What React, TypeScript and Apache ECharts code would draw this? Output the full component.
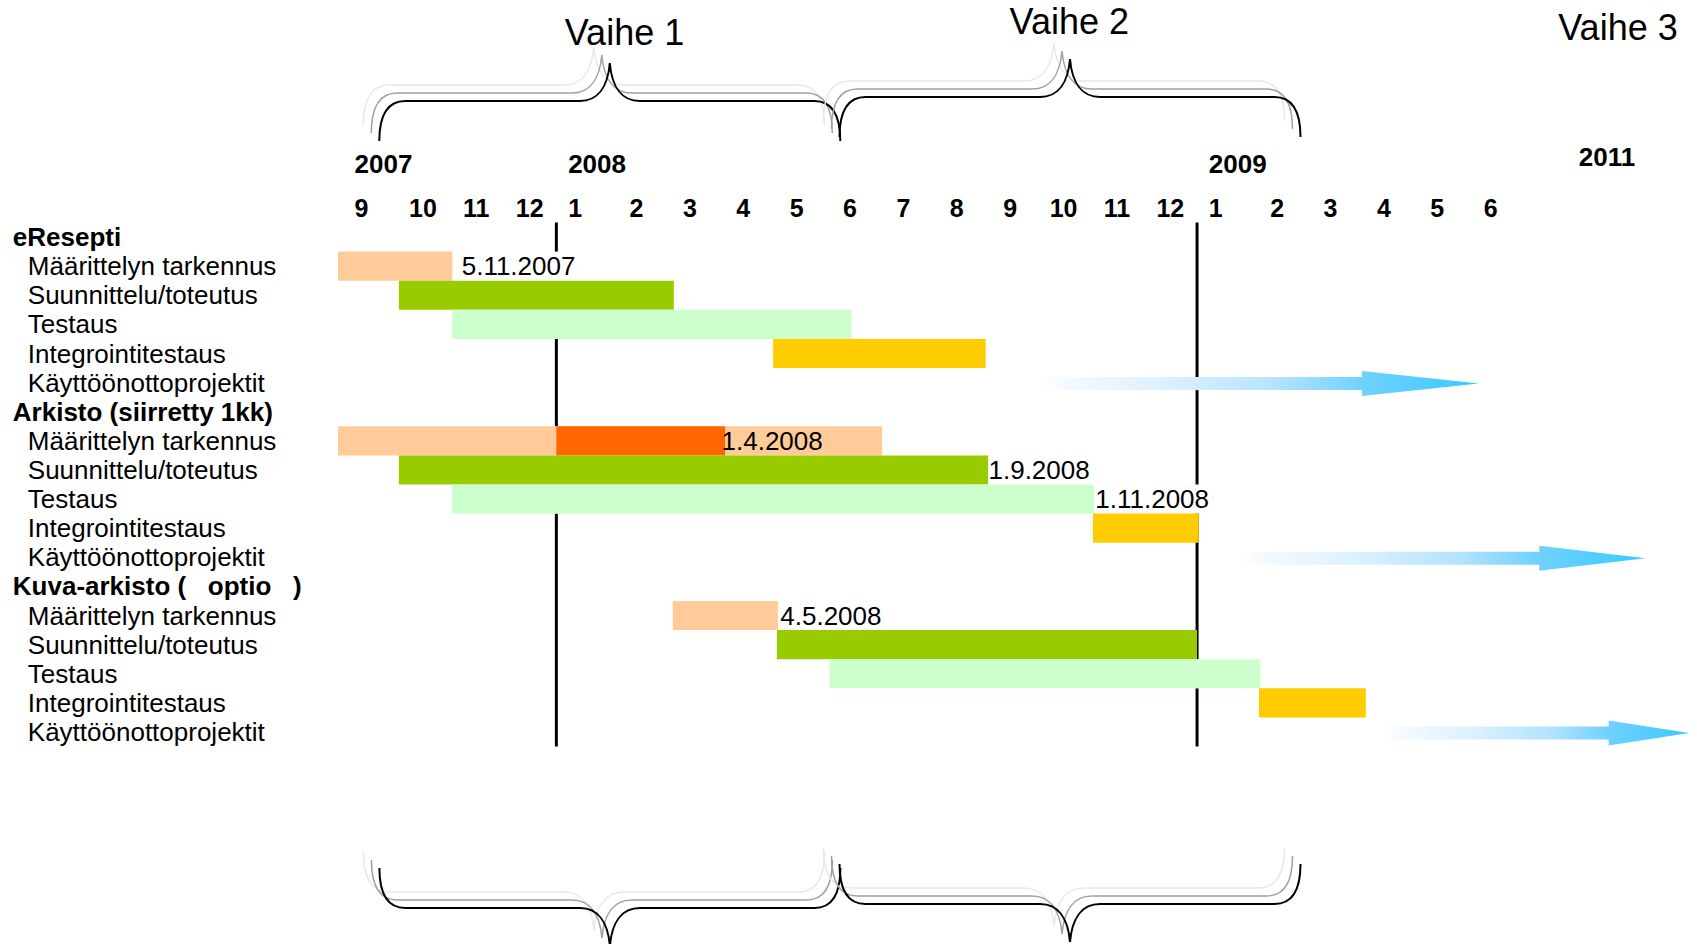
import React, { useEffect, useRef } from 'react';
import * as echarts from 'echarts';

const FONT = '"Liberation Sans", Arial, sans-serif';

// ---- Data ----
const rowLabels = [
  'eResepti', 'Määrittelyn tarkennus', 'Suunnittelu/toteutus', 'Testaus', 'Integrointitestaus', 'Käyttöönottoprojektit',
  'Arkisto (siirretty 1kk)', 'Määrittelyn tarkennus', 'Suunnittelu/toteutus', 'Testaus', 'Integrointitestaus', 'Käyttöönottoprojektit',
  'Kuva-arkisto (   optio   )', 'Määrittelyn tarkennus', 'Suunnittelu/toteutus', 'Testaus', 'Integrointitestaus', 'Käyttöönottoprojektit',
];
const headerRows = [0, 6, 12];

const monthLabels = ['9', '10', '11', '12', '1', '2', '3', '4', '5', '6', '7', '8', '9', '10', '11', '12', '1', '2', '3', '4', '5', '6'];
const yearLabels = ['2007', '2008', '2009'];
const yearMonthIndex = [0, 4, 16];
const extraYearLabel = '2011';
const phaseTitles = ['Vaihe 1', 'Vaihe 2', 'Vaihe 3'];

// values in months since 1.9.2007
const barRows = [1, 2, 3, 4, 7, 7, 8, 9, 10, 13, 14, 15, 16];
const barStarts = [-0.09, 1.05, 2.05, 8.06, -0.09, 4.0, 1.05, 2.05, 14.05, 6.18, 8.13, 9.12, 17.16];
const barEnds = [2.05, 6.2, 9.53, 12.04, 10.1, 7.16, 12.09, 14.07, 16.03, 8.15, 16.0, 17.19, 19.16];
const barKinds = ['def', 'dev', 'test', 'int', 'def', 'delay', 'dev', 'test', 'int', 'def', 'dev', 'test', 'int'];

const dateLabels = ['5.11.2007', '1.4.2008', '1.9.2008', '1.11.2008', '4.5.2008'];
const dateLabelRows = [1, 7, 8, 9, 13];

const milestoneMonths = [4, 16];

const arrowRows = [5, 11, 17];
const arrowFrom = [12.85, 16.6, 19.35];
const arrowHead = [19.09, 22.41, 23.71];
const arrowTo = [21.28, 24.4, 25.22];

const kindColors: Record<string, string> = {
  def: '#FFCC99',
  dev: '#99CC00',
  test: '#CCFFCC',
  int: '#FFCC00',
  delay: '#FF6600',
};

function dateToMonths(s: string) {
  const [d, m, y] = s.split('.').map(Number);
  return (y - 2007) * 12 + (m - 9) + (d - 1) / 30;
}

function bracePath(w: number) {
  const h = w / 2;
  return `M0 40 C0 14 8 0 26 0 L${h - 30} 0 C${h - 12} 0 ${h - 2} -14 ${h} -38 C${h + 2} -14 ${h + 12} 0 ${h + 30} 0 L${w - 26} 0 C${w - 8} 0 ${w} 14 ${w} 40`;
}
echarts.graphic.registerShape('brace', echarts.graphic.extendPath(bracePath(461), {}));

function measureWidth(text: string, fontSize: number) {
  const c = document.createElement('canvas');
  const ctx = c.getContext('2d');
  if (!ctx) return text.length * fontSize * 0.5;
  ctx.font = `${fontSize}px ${FONT}`;
  return ctx.measureText(text).width;
}

export default function App() {
  const ref = useRef<HTMLDivElement>(null);

  useEffect(() => {
    if (!ref.current) return;
    const chart = echarts.init(ref.current, null, { renderer: 'svg' });

    const dateValues = dateLabels.map(dateToMonths);
    const dateWidths = dateLabels.map((t) => measureWidth(t, 26));
    const dateBg = dateLabels.map((_, i) => {
      const probe = dateValues[i] + 0.5;
      const row = dateLabelRows[i];
      return !barRows.some((r, j) => r === row && barStarts[j] <= probe && barEnds[j] >= probe);
    });

    const arrowGradient = new echarts.graphic.LinearGradient(0, 0, 1, 0, [
      { offset: 0, color: 'rgba(255,255,255,0)' },
      { offset: 0.08, color: '#F4FAFF' },
      { offset: 0.3, color: '#DDF1FF' },
      { offset: 0.55, color: '#B5E3FF' },
      { offset: 0.74, color: '#70D1FF' },
      { offset: 1, color: '#38CAFF' },
    ]);

    const graphics: any[] = [];
    const braceSpecs = [
      { x: 379.3, y: 101, s: 1 },
      { x: 839.5, y: 97, s: 1 },
      { x: 379.4, y: 908, s: -1 },
      { x: 839.5, y: 904, s: -1 },
    ];
    braceSpecs.forEach((b) => {
      const layers: [number, number, string, number][] = [
        [-16, -16, '#e8e8e8', 1.5],
        [-8, -8, '#a0a0a0', 1.5],
        [0, 0, '#000000', 2],
      ];
      layers.forEach(([dx, dy, c, lw]) => {
        graphics.push({
          type: 'brace',
          x: b.x + dx,
          y: b.y + dy,
          scaleY: b.s,
          silent: true,
          style: { fill: 'none', stroke: c, lineWidth: lw },
        });
      });
    });
    const titlePos = [
      [624.5, 32.5],
      [1069.3, 21.6],
      [1618, 27],
    ];
    phaseTitles.forEach((t, i) => {
      graphics.push({
        type: 'text',
        x: titlePos[i][0],
        y: titlePos[i][1],
        silent: true,
        style: {
          text: t,
          fontSize: 36,
          fontFamily: FONT,
          fill: '#000',
          align: 'center',
          verticalAlign: 'middle',
          textAlign: 'center',
          textVerticalAlign: 'middle',
        },
      });
    });
    graphics.push({
      type: 'text',
      x: 1607,
      y: 157,
      silent: true,
      style: {
        text: extraYearLabel,
        fontSize: 26,
        fontWeight: 'bold',
        fontFamily: FONT,
        fill: '#000',
        align: 'center',
        verticalAlign: 'middle',
        textAlign: 'center',
        textVerticalAlign: 'middle',
      },
    });

    const option: any = {
      animation: false,
      backgroundColor: '#ffffff',
      textStyle: { fontFamily: FONT },
      grid: {
        left: 342.8,
        top: 222.5,
        width: 1174.6,
        height: 524,
        containLabel: false,
        outerBoundsMode: 'none',
      },
      xAxis: [
        {
          type: 'value',
          min: 0,
          max: 22,
          show: false,
          position: 'bottom',
        },
        {
          type: 'category',
          position: 'top',
          data: monthLabels,
          boundaryGap: true,
          axisLine: { show: false },
          axisTick: { show: false },
          splitLine: { show: false },
          axisLabel: {
            interval: 0,
            margin: 2,
            color: '#000',
            formatter: (val: string, idx: number) => {
              const yi = yearMonthIndex.indexOf(idx);
              if (yi >= 0) return `{y|${yearLabels[yi]}}\n{ml|${val}}`;
              return `{m|${val}}`;
            },
            rich: {
              y: {
                fontSize: 26,
                fontWeight: 'bold',
                fontFamily: FONT,
                color: '#000',
                lineHeight: 61,
                align: 'left',
                padding: [0, 0, 0, 28],
              },
              ml: {
                fontSize: 25,
                fontWeight: 'bold',
                fontFamily: FONT,
                color: '#000',
                lineHeight: 26,
                align: 'left',
                padding: [0, 0, 0, 28],
              },
              m: {
                fontSize: 25,
                fontWeight: 'bold',
                fontFamily: FONT,
                color: '#000',
                lineHeight: 26,
              },
            },
          },
        },
      ],
      yAxis: {
        type: 'category',
        inverse: true,
        data: rowLabels,
        axisLine: { show: false },
        axisTick: { show: false },
        splitLine: { show: false },
        axisLabel: {
          interval: 0,
          align: 'left',
          margin: 330,
          color: '#000',
          formatter: (val: string, idx: number) =>
            headerRows.includes(idx) ? `{h|${val}}` : `{i|${val}}`,
          rich: {
            h: { fontSize: 26, fontWeight: 'bold', fontFamily: FONT, color: '#000' },
            i: { fontSize: 26, fontFamily: FONT, color: '#000', padding: [0, 0, 0, 15] },
          },
        },
      },
      graphic: { elements: graphics },
      series: [
        {
          type: 'custom',
          name: 'milestones',
          z: 1,
          clip: false,
          silent: true,
          xAxisIndex: 0,
          yAxisIndex: 0,
          encode: { x: 0, y: 1 },
          data: milestoneMonths.map((v) => [v, 0]),
          renderItem: (params: any, api: any) => {
            const v = api.value(0);
            const x = api.coord([v, 0])[0];
            const cs = params.coordSys;
            const band = api.size([0, 1])[1];
            const blocked: [number, number][] = [];
            // parts of the line hidden behind bars, white-backed labels and arrows
            barRows.forEach((r, j) => {
              if (barStarts[j] < v - 0.05 && barEnds[j] > v + 0.05) {
                const cy = api.coord([v, r])[1];
                blocked.push([cy - band / 2, cy + band / 2]);
              }
            });
            dateLabelRows.forEach((r, i) => {
              if (!dateBg[i]) return;
              const x0 = api.coord([dateValues[i], r])[0] + 5;
              if (x >= x0 && x <= x0 + dateWidths[i]) {
                const cy = api.coord([v, r])[1];
                blocked.push([cy - band / 2, cy + band / 2]);
              }
            });
            arrowRows.forEach((r, i) => {
              if (arrowFrom[i] < v && arrowTo[i] > v) {
                const cy = api.coord([v, r])[1] + 1;
                blocked.push([cy - 6.5, cy + 6.5]);
              }
            });
            blocked.sort((a, b) => a[0] - b[0]);
            const segs: [number, number][] = [];
            let cur = cs.y;
            const end = cs.y + cs.height;
            blocked.forEach(([a, b]) => {
              if (a > cur) segs.push([cur, a]);
              cur = Math.max(cur, b);
            });
            if (cur < end) segs.push([cur, end]);
            return {
              type: 'group',
              children: segs.map(([a, b]) => ({
                type: 'line',
                z2: 0,
                shape: { x1: x, y1: a, x2: x, y2: b },
                style: { stroke: '#000', lineWidth: 3 },
              })),
            };
          },
        },
        {
          type: 'custom',
          name: 'tasks',
          z: 2,
          clip: false,
          silent: true,
          xAxisIndex: 0,
          yAxisIndex: 0,
          encode: { x: [1, 2], y: 0 },
          data: barRows.map((r, i) => [r, barStarts[i], barEnds[i]]),
          renderItem: (params: any, api: any) => {
            const row = api.value(0);
            const s = api.coord([api.value(1), row]);
            const e = api.coord([api.value(2), row]);
            const h = api.size([0, 1])[1];
            return {
              type: 'rect',
              z2: 10,
              shape: { x: s[0], y: s[1] - h / 2, width: e[0] - s[0], height: h },
              style: { fill: kindColors[barKinds[params.dataIndex]], opacity: 1 },
            };
          },
        },
        {
          type: 'custom',
          name: 'dates',
          z: 3,
          clip: false,
          silent: true,
          xAxisIndex: 0,
          yAxisIndex: 0,
          encode: { x: 0, y: 1 },
          data: dateLabelRows.map((r, i) => [dateValues[i], r]),
          renderItem: (params: any, api: any) => {
            const i = params.dataIndex;
            const p = api.coord([api.value(0), api.value(1)]);
            const style: any = {
              text: dateLabels[i],
              fontSize: 26,
              fontFamily: FONT,
              fill: '#000',
              align: 'left',
              verticalAlign: 'middle',
            };
            if (dateBg[i]) style.backgroundColor = '#ffffff';
            return { type: 'text', z2: 20, x: p[0] + 5, y: p[1], style };
          },
        },
        {
          type: 'custom',
          name: 'rollout',
          z: 4,
          clip: false,
          silent: true,
          xAxisIndex: 0,
          yAxisIndex: 0,
          encode: { x: [0, 2], y: 1 },
          data: arrowRows.map((r, i) => [arrowFrom[i], r, arrowTo[i]]),
          renderItem: (params: any, api: any) => {
            const i = params.dataIndex;
            const row = api.value(1);
            const a = api.coord([api.value(0), row]);
            const b = api.coord([arrowHead[i], row]);
            const c = api.coord([api.value(2), row]);
            const y = a[1] + 1;
            const sh = 6.5;
            const hh = 12.5;
            return {
              type: 'polygon',
              z2: 30,
              shape: {
                points: [
                  [a[0], y - sh],
                  [b[0], y - sh],
                  [b[0], y - hh],
                  [c[0], y],
                  [b[0], y + hh],
                  [b[0], y + sh],
                  [a[0], y + sh],
                ],
              },
              style: { fill: arrowGradient },
            };
          },
        },
      ],
    };

    chart.setOption(option);
    return () => chart.dispose();
  }, []);

  return (
    <div
      ref={ref}
      style={{ position: 'fixed', left: 0, top: 0, width: 1697, height: 944, background: '#fff' }}
    />
  );
}
